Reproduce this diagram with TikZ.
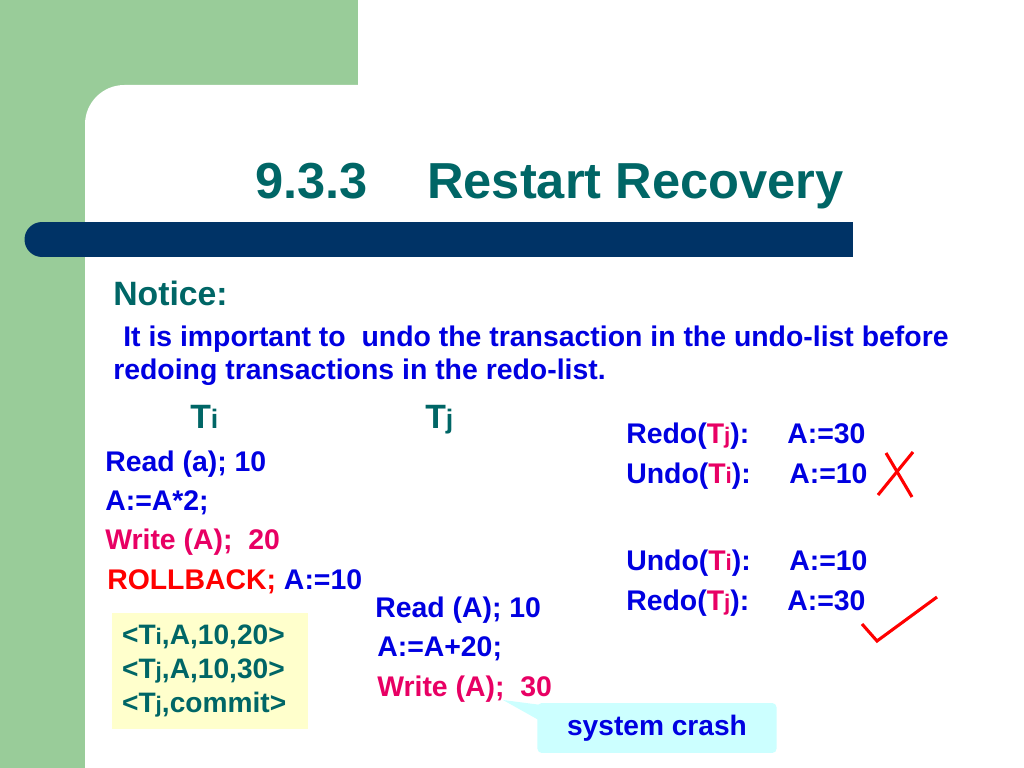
\documentclass[tikz,border=0pt]{standalone}
\usepackage{fontspec}
\setmainfont{Liberation Sans}
\usetikzlibrary{positioning}
\definecolor{slgreen}{RGB}{153,204,153}
\definecolor{slnavy}{RGB}{0,51,102}
\definecolor{slteal}{RGB}{0,102,102}
\definecolor{slblue}{RGB}{0,0,225}
\definecolor{slpink}{RGB}{232,0,100}
\definecolor{slred}{RGB}{255,0,0}
\definecolor{slyellow}{RGB}{255,255,204}
\definecolor{slcyan}{RGB}{204,255,255}
\newcommand{\sm}[1]{{\fontsize{16}{16}\selectfont #1}}
\newcommand{\smh}[1]{{\fontsize{19}{19}\selectfont #1}}
\newcommand{\tpink}[1]{\textcolor{slpink}{T\sm{#1}}}

\begin{document}
\begin{tikzpicture}[
  x=0.025cm, y=-0.025cm,
  txt/.style={anchor=base west, inner sep=0pt, font=\bfseries\fontsize{20.2}{24}\selectfont, text=slblue},
  wrt/.style={txt, text=slpink},
  head/.style={anchor=base west, inner sep=0pt, font=\bfseries\fontsize{24}{28}\selectfont, text=slteal},
  redmark/.style={slred, line width=2.2pt}
]
\clip (0,0) rectangle (1024,768);

% Slide background
\fill[slgreen] (0,0) rectangle (358,768);
\fill[white, rounded corners=28pt] (85,85) rectangle (1100,850);
\fill[slnavy] (42,222) rectangle (853,257);
\fill[slnavy] (42,239.5) circle[radius=17.5];

% Title
\node[head, font=\bfseries\fontsize{36}{40}\selectfont] (secnum) at (255,198) {9.3.3};
\node[head, font=\bfseries\fontsize{36}{40}\selectfont] (title) at (427,198) {Restart Recovery};

% Notice
\node[head] (notice) at (113,305) {Notice:};
\node[txt] (note1) at (123,346) {It is important to\ \ undo the transaction in the undo-list before};
\node[txt] (note2) at (113,379) {redoing transactions in the redo-list.};

% Transaction Ti
\node[head] (ti) at (190,428) {T\smh{i}};
\node[txt] (readA) at (105,471) {Read (a); 10};
\node[txt] (calcA) at (105,510) {A:=A*2;};
\node[wrt] (wrtA) at (105,549) {Write (A);\ \ 20};
\node[txt] (rollA) at (107,589) {\textcolor{slred}{ROLLBACK;} A:=10};

% Transaction Tj
\node[head] (tj) at (425,428) {T\smh{j}};
\node[txt] (readB) at (375,617) {Read (A); 10};
\node[txt] (calcB) at (377,656) {A:=A+20;};
\node[wrt] (wrtB) at (377,696) {Write (A);\ \ 30};

% Log
\node[anchor=north west, fill=slyellow, align=left, inner xsep=7pt, text width=125pt, minimum height=82pt,
  font=\bfseries\fontsize{20}{24}\selectfont, text=slteal] (log) at (112,613)
  {<T\sm{i},A,10,20>\\<T\sm{j},A,10,30>\\<T\sm{j},commit>};

% System crash callout
\node[fill=slcyan, rounded corners=3pt, minimum width=170pt, minimum height=35.5pt,
  font=\bfseries\fontsize{20}{24}\selectfont, text=slblue] (crash) at (657,728) {system crash};
\coordinate (crashtip) at (503,700);
\fill[slcyan] (crashtip) -- ([shift={(10,3)}]crash.north west) -- ([shift={(10,22)}]crash.north west) -- cycle;

% Wrong order
\node[txt] (redo1) at (626,443) {Redo(\tpink{j}):};
\node[txt] (redo1v) at (787,443) {A:=30};
\node[txt] (undo1) at (626,483) {Undo(\tpink{i}):};
\node[txt] (undo1v) at (789,483) {A:=10};
\draw[redmark] (878,495) -- (913,452);
\draw[redmark] (886,453) -- (912,497);

% Right order
\node[txt] (undo2) at (626,570) {Undo(\tpink{i}):};
\node[txt] (undo2v) at (789,570) {A:=10};
\node[txt] (redo2) at (626,610) {Redo(\tpink{j}):};
\node[txt] (redo2v) at (787,610) {A:=30};
\draw[redmark] (862,624) -- (877,641) -- (937,597);

\end{tikzpicture}
\end{document}
